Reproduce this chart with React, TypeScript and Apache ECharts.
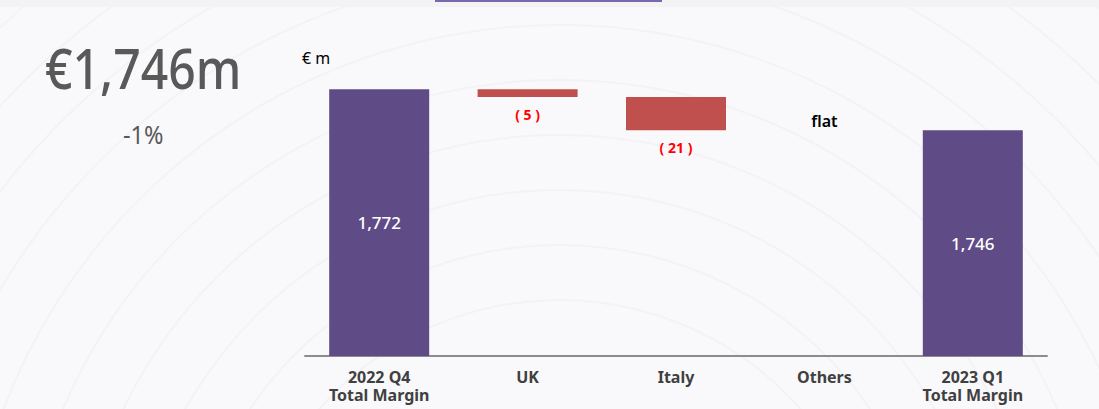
import React, { useEffect, useRef } from "react";
import * as echarts from "echarts";

const categories = ["2022 Q4\nTotal Margin", "UK", "Italy", "Others", "2023 Q1\nTotal Margin"];
const baseValues = [0, 1767, 1746, 1746, 0];
const deltaValues = [1772, 5, 21, 0, 1746];
const valueLabels = ["1,772", "( 5 )", "( 21 )", "", "1,746"];
const headline = "€1,746m";
const changeText = "-1%";
const unitText = "€ m";
const flatText = "flat";

const PURPLE = "#5f4b86";
const RED = "#c0504d";
const FONT = "'Noto Sans', sans-serif";

export default function App() {
  const ref = useRef<HTMLDivElement>(null);
  useEffect(() => {
    document.body.style.margin = "0";
    const chart = echarts.init(ref.current!, null, { renderer: "svg" });
    const rings = [];
    for (let i = 0; i < 10; i++) {
      rings.push({
        type: "circle",
        silent: true,
        z: -10,
        shape: { cx: 560, cy: 620, r: 320 + i * 55 },
        style: { fill: "none", stroke: "#f3f3f7", lineWidth: 2 },
      });
    }
    const deltaData = deltaValues.map((v, i) => {
      const isTotal = i === 0 || i === deltaValues.length - 1;
      const text = valueLabels[i];
      return {
        value: v,
        itemStyle: { color: isTotal ? PURPLE : RED },
        label: isTotal
          ? { show: true, position: "inside", formatter: text, color: "#ffffff", fontSize: 17, fontWeight: 500, fontFamily: FONT }
          : text
          ? { show: true, position: "bottom", distance: 10, formatter: text, color: "#ff0000", fontSize: 14, fontWeight: "bold", fontFamily: FONT }
          : { show: false },
      };
    });
    const baseData = baseValues.map((v, i) => ({
      value: v,
      label:
        i === 3
          ? { show: true, position: "top", distance: 1, formatter: flatText, color: "#000000", fontSize: 16, fontWeight: 600, fontFamily: FONT }
          : { show: false },
    }));
    chart.setOption({
      animation: false,
      backgroundColor: "#f9f9fb",
      grid: { left: 305, right: 52, top: 45, bottom: 53 },
      graphic: [
        ...rings,
        { type: "rect", silent: true, z: -5, shape: { x: 0, y: 0, width: 1099, height: 7 }, style: { fill: "#f3f3f6" } },
        { type: "rect", shape: { x: 435, y: 0, width: 227, height: 2 }, style: { fill: "#7a67ad" } },
        {
          type: "text",
          x: 45,
          y: 39,
          scaleX: 0.86,
          style: { text: headline, fontSize: 56, fontFamily: FONT, fontWeight: 500, fill: "#595959" },
        },
        {
          type: "text",
          x: 123,
          y: 121,
          scaleX: 0.9,
          style: { text: changeText, fontSize: 26, fontFamily: FONT, fill: "#595959" },
        },
        {
          type: "text",
          x: 302,
          y: 50,
          style: { text: unitText, fontSize: 16, fontFamily: FONT, fill: "#000000" },
        },
      ],
      xAxis: {
        type: "category",
        data: categories,
        axisLine: { lineStyle: { color: "#8c8c8c", width: 2 } },
        axisTick: { show: false },
        axisLabel: {
          interval: 0,
          color: "#404040",
          fontSize: 16,
          fontWeight: "bold",
          lineHeight: 18,
          margin: 12,
          fontFamily: FONT,
        },
      },
      yAxis: {
        type: "value",
        min: 1603,
        max: 1800,
        show: false,
        splitLine: { show: false },
      },
      series: [
        {
          type: "bar",
          stack: "w",
          barWidth: 100,
          itemStyle: { color: "transparent" },
          emphasis: { disabled: true },
          data: baseData,
        },
        {
          type: "bar",
          stack: "w",
          barWidth: 100,
          emphasis: { disabled: true },
          data: deltaData,
        },
      ],
    });
    return () => chart.dispose();
  }, []);
  return <div ref={ref} style={{ position: "fixed", left: 0, top: 0, width: 1099, height: 409 }} />;
}
